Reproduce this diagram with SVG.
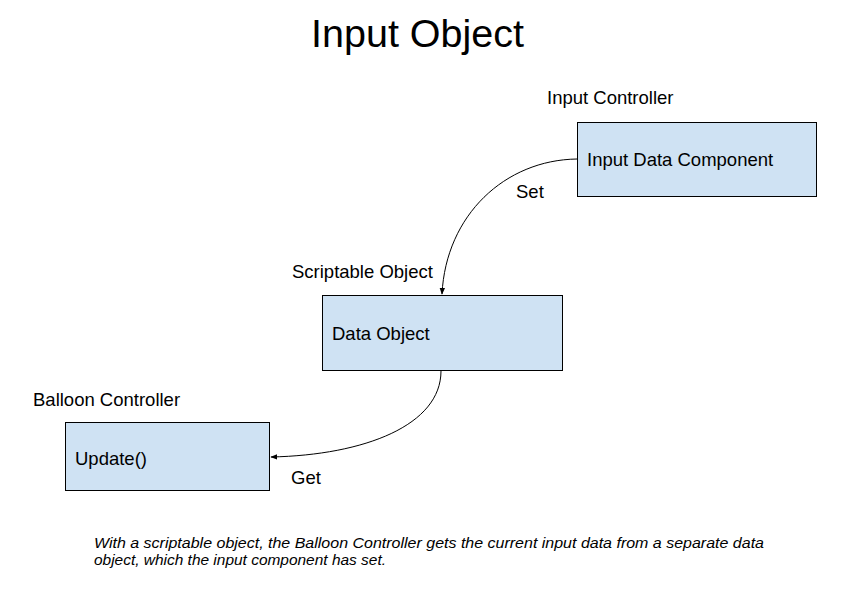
<svg xmlns="http://www.w3.org/2000/svg" width="846" height="592" viewBox="0 0 846 592">
<defs>
<style>
text{font-family:"Liberation Sans",Arial,sans-serif;fill:#000}
.lbl{font-size:18.5px}
.title{font-size:38px}
.cap{font-size:15.5px;font-style:italic}
.box{fill:#cfe2f3;stroke:#000;stroke-width:1}
.conn{fill:none;stroke:#000;stroke-width:1}
</style>
<marker id="arr" viewBox="0 0 10 10" refX="9" refY="5" markerWidth="7" markerHeight="7" markerUnits="userSpaceOnUse" orient="auto">
<path d="M0,1 L10,5 L0,9 Z" fill="#000"/>
</marker>
</defs>
<rect width="846" height="592" fill="#fff"/>
<text class="title" x="311" y="47" textLength="213" lengthAdjust="spacingAndGlyphs">Input Object</text>
<g id="input-controller">
<text class="lbl" x="547" y="104">Input Controller</text>
<rect class="box" x="577.5" y="122.5" width="239" height="74"/>
<text class="lbl" x="587" y="166">Input Data Component</text>
</g>
<g id="scriptable-object">
<text class="lbl" x="292" y="278">Scriptable Object</text>
<rect class="box" x="322.5" y="295.5" width="240" height="75"/>
<text class="lbl" x="332" y="340">Data Object</text>
</g>
<g id="balloon-controller">
<text class="lbl" x="33" y="406">Balloon Controller</text>
<rect class="box" x="65.5" y="422.5" width="204" height="68"/>
<text class="lbl" x="75" y="465">Update()</text>
</g>
<g id="connectors">
<path class="conn" d="M577,159 C505,160 446,215 442,294" marker-end="url(#arr)"/>
<text class="lbl" x="516" y="198">Set</text>
<path class="conn" d="M441,371 C441,425 365,455 271,457" marker-end="url(#arr)"/>
<text class="lbl" x="291" y="484">Get</text>
</g>
<text class="cap" x="94" y="548" textLength="670" lengthAdjust="spacingAndGlyphs">With a scriptable object, the Balloon Controller gets the current input data from a separate data</text>
<text class="cap" x="94" y="565" textLength="292" lengthAdjust="spacingAndGlyphs">object, which the input component has set.</text>
</svg>
